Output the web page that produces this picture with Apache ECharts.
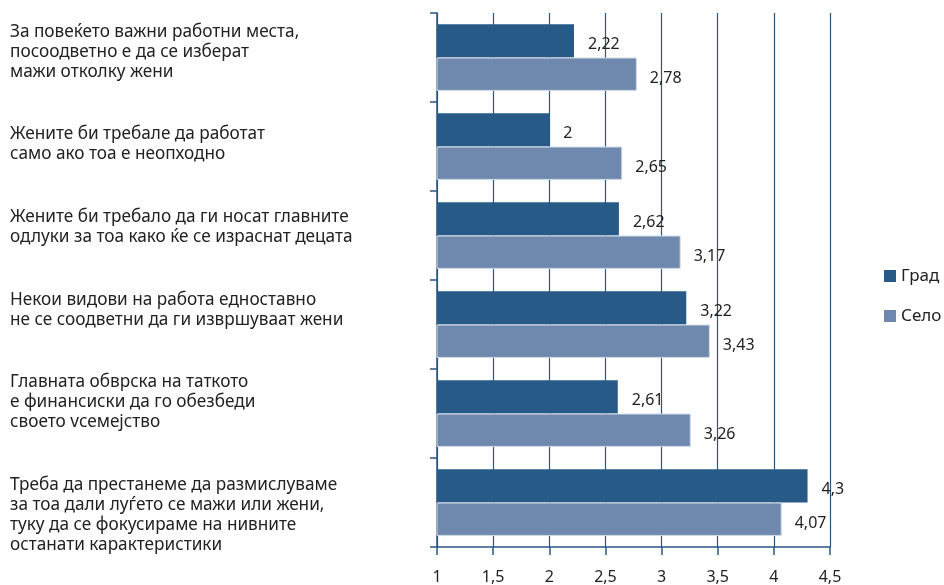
<!DOCTYPE html>
<html>
<head>
<meta charset="utf-8">
<script src="https://cdn.jsdelivr.net/npm/echarts@6/dist/echarts.min.js"></script>
<style>
html,body{margin:0;padding:0;background:#fff;}
#c{width:944px;height:585px;}
</style>
</head>
<body>
<div id="c"></div>
<script>
const categories = [
  "За повеќето важни работни места,\nпосоодветно е да се изберат\nмажи отколку жени",
  "Жените би требале да работат\nсамо ако тоа е неопходно",
  "Жените би требало да ги носат главните\nодлуки за тоа како ќе се израснат децата",
  "Некои видови на работа едноставно\nне се соодветни да ги извршуваат жени",
  "Главната обврска на таткото\nе финансиски да го обезбеди\nсвоето vсемејство",
  "Треба да престанеме да размислуваме\nза тоа дали луѓето се мажи или жени,\nтуку да се фокусираме на нивните\nостанати карактеристики"
];
const seriesNames = ["Град", "Село"];
const gradValues = [2.22, 2.00, 2.62, 3.22, 2.61, 4.30];
const seloValues = [2.78, 2.65, 3.17, 3.43, 3.26, 4.07];
const xTicks = [1, 1.5, 2, 2.5, 3, 3.5, 4, 4.5];

// vertical shift of each category label (layout only, px; negative = up)
const labelShift = [-5, -2, -8, -14, -11, 13];

const axisColor = '#2a5581';
const font = 'Noto Sans';
const fmt = v => String(v).replace('.', ',');

const rich = {t: {fontSize: 17.2, lineHeight: 20, color: '#222', fontFamily: font, align: 'left'}};
labelShift.forEach((s, i) => {
  rich['g' + i] = {fontSize: 1, lineHeight: Math.max(1, 2 * Math.abs(s)), height: Math.max(1, 2 * Math.abs(s)), align: 'left'};
});
function catFormatter(value, index) {
  const body = value.split('\n').map(l => '{t|' + l + '}').join('\n');
  const s = labelShift[index] || 0;
  if (s === 0) return body;
  const gap = '{g' + index + '| }';
  return s < 0 ? body + '\n' + gap : gap + '\n' + body;
}

const chart = echarts.init(document.getElementById('c'), null, {renderer: 'canvas'});
chart.setOption({
  animation: false,
  textStyle: {fontFamily: font},
  grid: {left: 437, right: 114, top: 13, bottom: 38, containLabel: false, outerBoundsMode: 'none'},
  legend: {
    orient: 'vertical', left: 884, top: 266, itemGap: 20, padding: 0,
    itemWidth: 12, itemHeight: 12, icon: 'rect',
    itemStyle: {borderWidth: 0},
    textStyle: {fontFamily: font, fontSize: 17, lineHeight: 20, color: '#222'},
    data: seriesNames
  },
  xAxis: {
    type: 'value', min: xTicks[0], max: xTicks[xTicks.length-1], interval: 0.5,
    axisLine: {show: true, lineStyle: {color: axisColor, width: 1.5}},
    axisTick: {show: true, length: 8, lineStyle: {color: axisColor, width: 1.5}},
    splitLine: {show: true, lineStyle: {color: axisColor, width: 1.2}},
    axisLabel: {margin: 22, fontSize: 16, color: '#222', fontFamily: font, formatter: fmt}
  },
  yAxis: {
    type: 'category', inverse: true, data: categories,
    axisLine: {show: true, lineStyle: {color: axisColor, width: 1.5}},
    axisTick: {show: true, length: 7, lineStyle: {color: axisColor, width: 1.5}},
    axisLabel: {margin: 427, interval: 0, hideOverlap: false, align: 'left', formatter: catFormatter, rich: rich, fontSize: 17.2, lineHeight: 20, color: '#222', fontFamily: font}
  },
  series: [
    {
      name: seriesNames[0], type: 'bar', data: gradValues,
      barGap: '0%', barCategoryGap: '25%',
      itemStyle: {color: '#285a87'},
      label: {show: true, position: 'right', distance: 14, offset: [0, 4], fontSize: 16, color: '#222', fontFamily: font, formatter: p => fmt(p.value)}
    },
    {
      name: seriesNames[1], type: 'bar', data: seloValues,
      barGap: '0%', barCategoryGap: '25%',
      itemStyle: {color: '#6f88ae', borderColor: '#d3dbe7', borderWidth: 1},
      label: {show: true, position: 'right', distance: 13, offset: [0, 4], fontSize: 16, color: '#222', fontFamily: font, formatter: p => fmt(p.value)}
    }
  ]
});
</script>
</body>
</html>
